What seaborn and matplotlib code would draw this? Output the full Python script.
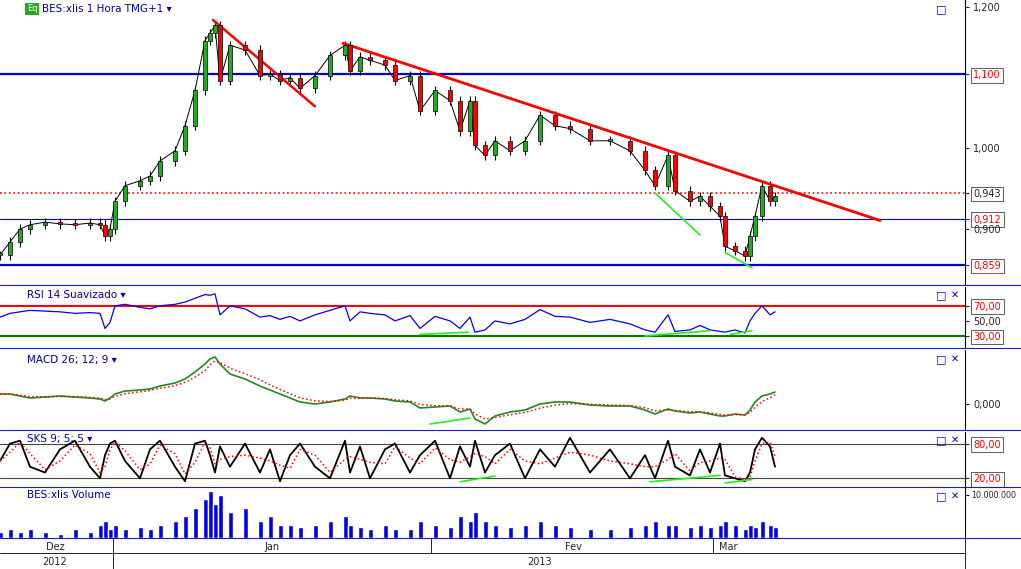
import matplotlib
matplotlib.use("Agg")
import matplotlib.pyplot as plt
import matplotlib.ticker as mt
import seaborn as sns
import numpy as np
import pandas as pd

# ---------------- data ----------------
bars = [0,10,20,30,45,60,75,90,100,105,110,115,125,140,150,160,175,185,195,205,210,215,220,230,245,260,270,280,290,300,315,330,345,350,360,370,385,395,410,420,435,450,460,470,475,485,495,510,525,540,555,570,590,610,630,645,655,668,675,690,700,710,720,725,735,745,750,755,762,770,775]
close = [0.87,0.885,0.90,0.905,0.908,0.906,0.905,0.907,0.905,0.892,0.90,0.933,0.952,0.958,0.964,0.983,0.996,1.029,1.077,1.149,1.16,1.172,1.091,1.142,1.135,1.098,1.10,1.091,1.095,1.080,1.098,1.127,1.142,1.105,1.125,1.120,1.113,1.091,1.098,1.049,1.077,1.063,1.022,1.063,1.003,0.990,1.009,0.996,1.009,1.043,1.029,1.025,1.009,1.009,0.996,0.971,0.952,0.990,0.946,0.933,0.939,0.927,0.915,0.880,0.875,0.869,0.892,0.915,0.952,0.933,0.939]
rsi = [55,60,62,64,63,62,60,61,60,40,48,70,72,68,66,70,72,75,80,85,84,86,58,70,66,55,57,52,56,50,58,64,70,50,62,60,58,50,57,40,56,50,40,55,35,38,50,46,52,65,56,55,48,52,46,38,35,58,36,38,44,38,36,35,38,34,50,60,70,58,62]
macd = [10,10,8,6,7,8,7,6,5,3,6,10,13,14,15,18,21,25,32,40,45,47,40,30,25,18,14,10,6,2,0,2,5,8,6,6,5,3,2,-4,-3,-2,-8,-5,-15,-20,-12,-8,-6,0,2,2,-1,-2,-2,-6,-10,-5,-7,-9,-8,-10,-12,-12,-10,-11,-6,2,8,10,12]
sks = [50,80,85,40,30,70,85,40,20,60,80,85,50,20,70,85,40,15,80,85,60,30,75,40,80,30,70,15,60,80,40,20,85,30,75,20,70,80,30,60,85,20,75,40,85,30,60,80,20,70,40,90,30,70,20,60,20,85,40,25,70,30,80,25,20,15,30,70,90,75,40]
volume = [1.5,2,1.5,2,1.5,1,2,1.5,3,4,2,3,2,2.5,2,3,4,5,7,9,11,8,10,6,7,4,5,3,3,2.5,3,4,5,3,2.5,2,3,2,2,4,3,2.5,5,4,6,4,3,2.5,3,4,3,2.5,2,2,2.5,3,4,3,3,2.5,3,2.5,3,4,3,2,3,2.5,4,3,2.5]
n = min(len(bars), len(close), len(rsi), len(macd), len(sks), len(volume))
df = pd.DataFrame({"bar": bars[:n], "close": close[:n], "rsi": rsi[:n], "macd": macd[:n],
                   "sks": sks[:n], "vol": volume[:n]})
df["open"] = df["close"].shift(1).fillna(df["close"])
df["signal"] = df["macd"].ewm(span=3).mean()
df["sksd"] = df["sks"].rolling(2, min_periods=1).mean()

price_ticks = [1.2, 1.1, 1.0, 0.943, 0.912, 0.9, 0.859]
months = ["Dez", "Jan", "Fev", "Mar"]
month_pos = [55, 272, 573, 728]
month_bounds = [113, 431, 713]
years = ["2012", "2013"]
year_pos = [55, 540]
trend1 = ([213, 315], [1.18, 1.055])
trend2 = ([343, 880], [1.145, 0.910])
greens_price = [([655, 700], [0.943, 0.893]), ([725, 752], [0.873, 0.856])]
greens_rsi = [([420, 468], [32, 35]), ([645, 710], [30, 37]), ([730, 752], [32, 37])]
greens_macd = [([430, 470], [-20, -14])]
greens_sks = [([460, 495], [14, 24]), ([650, 720], [14, 25]), ([725, 752], [12, 18])]

# ---------------- layout ----------------
W, H = 1021, 569
sns.set_style("white")
fig = plt.figure(figsize=(W/100, H/100), dpi=100)
fig.patch.set_facecolor("white")
PW = 965

def mkax(top, bot):
    ax = fig.add_axes([0, 1-bot/H, PW/W, (bot-top)/H])
    ax.set_xlim(0, PW)
    for s in ["top", "bottom", "left"]:
        ax.spines[s].set_visible(False)
    ax.spines["right"].set_color("black")
    ax.yaxis.tick_right()
    ax.tick_params(axis="y", labelsize=7, length=3, pad=3)
    ax.set_xticks([])
    return ax

def sep(y):
    fig.add_artist(plt.Line2D([0, 1], [1-y/H, 1-y/H], color="#1a1acc", lw=0.8))

# price
ax = mkax(0, 285)
ax.set_yscale("log")
ax.set_ylim(0.837, 1.211)
for y, c, lw, ls in [(1.1, "#0000dd", 1.6, "-"), (0.943, "red", 1.2, ":"), (0.912, "#0000dd", 0.8, "-"), (0.859, "#0000dd", 1.6, "-")]:
    ax.axhline(y, color=c, lw=lw, ls=ls)
ax.vlines(df["bar"], df[["open","close"]].min(axis=1)*0.994, df[["open","close"]].max(axis=1)*1.006, color="black", lw=0.8)
sns.lineplot(data=df, x="bar", y="close", ax=ax, color="black", lw=0.7)
up = df["close"] >= df["open"]
ax.bar(df["bar"], (df["close"]-df["open"]).abs().clip(lower=0.002), bottom=df[["open","close"]].min(axis=1),
       width=4, color=np.where(up, "#22aa22", "red"), edgecolor="black", lw=0.5, zorder=3)
ax.plot(*trend1, color="red", lw=1.8)
ax.plot(*trend2, color="red", lw=2)
for g in greens_price:
    ax.plot(*g, color="#22ee22", lw=1.2)
ax.set_yticks(price_ticks)
ax.yaxis.set_minor_locator(mt.NullLocator())
ax.set_yticklabels(["1,200", "1,100", "1,000", "0,943", "0,912", "0,900", "0,859"])
for lbl, t in zip(ax.get_yticklabels(), price_ticks):
    if t in (1.1, 0.912, 0.859):
        lbl.set_color("red")
    if t != 1.2 and t != 1.0 and t != 0.9:
        lbl.set_bbox(dict(boxstyle="square,pad=0.25", fc="white", ec="#444444", lw=0.6))
ax.set_xlabel(""); ax.set_ylabel("")
ax.text(27, 1.197, "Eq", fontsize=6, color="white", bbox=dict(boxstyle="square,pad=0.2", fc="#22aa22", ec="none"), va="center")
ax.text(42, 1.197, "BES:xlis 1 Hora TMG+1 ▾", fontsize=7.5, color="#0000aa", va="center")
sep(285)

def panel(top, bot, ylim, ticks, labels, title, red=None, fs=7, pad=3):
    a = mkax(top, bot)
    a.set_ylim(*ylim)
    a.set_yticks(ticks)
    a.set_yticklabels(labels, fontsize=fs)
    a.tick_params(axis="y", pad=pad)
    if red:
        for l in a.get_yticklabels():
            if l.get_text() in red:
                l.set_color("red")
                l.set_bbox(dict(boxstyle="square,pad=0.25", fc="white", ec="#444444", lw=0.6))
    a.text(27, ylim[1] - (ylim[1]-ylim[0])*0.13, title, fontsize=7.5, color="#0000aa", va="center")
    a.set_xlabel(""); a.set_ylabel("")
    return a

# RSI
a = panel(287, 348, (14, 95), [70, 50, 30], ["70,00", "50,00", "30,00"], "RSI 14 Suavizado ▾", red=["70,00", "30,00"])
a.axhline(70, color="red", lw=1.5); a.axhline(30, color="green", lw=1.5)
sns.lineplot(data=df, x="bar", y="rsi", ax=a, color="#0000ff", lw=0.9)
for g in greens_rsi: a.plot(*g, color="#22ee22", lw=1.2)
a.set_xlabel(""); a.set_ylabel("")
sep(348)

# MACD
a = panel(350, 430, (-26, 54), [0], ["0,000"], "MACD 26; 12; 9 ▾")
sns.lineplot(data=df, x="bar", y="macd", ax=a, color="#228822", lw=1.2)
sns.lineplot(data=df, x="bar", y="signal", ax=a, color="red", lw=1.1, ls=":")
for g in greens_macd: a.plot(*g, color="#22ee22", lw=1.2)
a.set_xlabel(""); a.set_ylabel("")
sep(430)

# SKS
a = panel(432, 487, (5, 100), [80, 20], ["80,00", "20,00"], "SKS 9; 5; 5 ▾", red=["80,00", "20,00"])
a.axhline(80, color="#444444", lw=0.8); a.axhline(20, color="#444444", lw=0.8)
sns.lineplot(data=df, x="bar", y="sks", ax=a, color="black", lw=1.3)
sns.lineplot(data=df, x="bar", y="sksd", ax=a, color="red", lw=1.1, ls=":")
for g in greens_sks: a.plot(*g, color="#22ee22", lw=1.2)
a.set_xlabel(""); a.set_ylabel("")
sep(487)

# Volume
a = panel(488, 538, (0, 11.6), [10], ["10.000.000"], "BES:xlis Volume", fs=5.8, pad=1.5)
a.bar(df["bar"], df["vol"], width=5, color="#0000ee")
a.set_xlabel(""); a.set_ylabel("")
sep(538)

# date axis
d = fig.add_axes([0, 0, PW/W, 31/H]); d.set_xlim(0, PW); d.set_ylim(0, 31); d.axis("off")
d.axhline(16, color="black", lw=0.6)
for b in month_bounds:
    d.plot([b, b], [16, 31], color="black", lw=0.6)
d.plot([113, 113], [0, 16], color="black", lw=0.6)
for m, p in zip(months, month_pos):
    d.text(p, 22, m, fontsize=7, ha="center", va="center")
for yv, p in zip(years, year_pos):
    d.text(p, 7, yv, fontsize=7, ha="center", va="center")
fig.add_artist(plt.Line2D([PW/W, PW/W], [0, 31/H], color="black", lw=0.6))

# panel icons
for y in [9, 295, 359, 440, 496]:
    fig.text(941/W, 1-y/H, "□", fontsize=8, color="#0000cc", va="center", ha="center")
for y in [295, 359, 440, 496]:
    fig.text(955/W, 1-y/H, "✕", fontsize=7, color="#0000cc", va="center", ha="center")

fig.savefig("out.png", dpi=100)
